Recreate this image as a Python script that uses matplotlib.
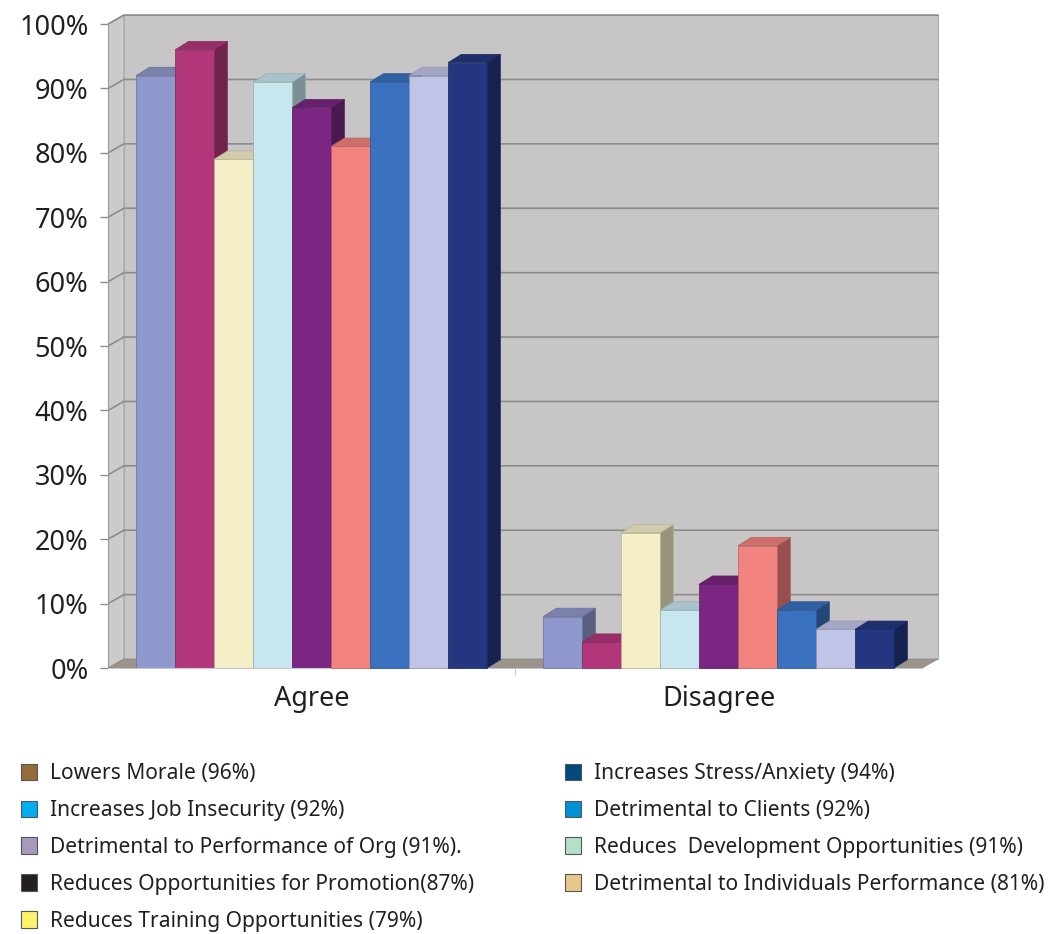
import matplotlib.pyplot as plt
from matplotlib.patches import Polygon, Patch

categories = ["Agree", "Disagree"]

# one list per bar series (left to right inside each group)
bar_colors = ["#8f98cc", "#b2377a", "#f5efc8", "#c8e6ee", "#7a2682",
              "#f2837f", "#3a72c0", "#c0c4e6", "#243680"]
agree = [92, 96, 79, 91, 87, 81, 91, 92, 94]
disagree = [8, 4, 21, 9, 13, 19, 9, 6, 6]

legend_left = ["Lowers Morale (96%)",
               "Increases Job Insecurity (92%)",
               "Detrimental to Performance of Org (91%).",
               "Reduces Opportunities for Promotion(87%)",
               "Reduces Training Opportunities (79%)"]
legend_left_colors = ["#946c3a", "#00aeef", "#a898bc", "#231f20", "#fff36b"]
legend_right = ["Increases Stress/Anxiety (94%)",
                "Detrimental to Clients (92%)",
                "Reduces  Development Opportunities (91%)",
                "Detrimental to Individuals Performance (81%)"]
legend_right_colors = ["#004a7c", "#0090d8", "#b5e0c8", "#e6c88a"]

yticks = list(range(0, 101, 10))

plt.rcParams["font.family"] = ["Noto Sans", "DejaVu Sans"]
TXT = "#231f20"


def shade(c, f):
    r, g, b = plt.matplotlib.colors.to_rgb(c)
    return (r * f, g * f, b * f)


def draw_bar(ax, x0, w, h, color, z, dx=0.033, dy=1.3):
    edge = shade(color, 0.75)
    side = [(x0 + w, 0), (x0 + w + dx, dy), (x0 + w + dx, h + dy), (x0 + w, h)]
    top = [(x0, h), (x0 + w, h), (x0 + w + dx, h + dy), (x0 + dx, h + dy)]
    ax.add_patch(Polygon(side, closed=True, fc=shade(color, 0.62),
                         ec=edge, lw=0.5, zorder=z))
    ax.add_patch(Polygon(top, closed=True, fc=shade(color, 0.85),
                         ec=edge, lw=0.5, zorder=z))
    ax.bar(x0, h, width=w, align="edge", color=color, edgecolor=edge,
           linewidth=0.5, zorder=z + 0.01)


fig = plt.figure(figsize=(10.59, 9.34), dpi=100)
ax = fig.add_axes([108 / 1059, 0.2744, 846.6 / 1059, 0.7136])
ax.set_xlim(-0.5, 1.58)
ax.set_ylim(-1.5, 102)
ax.set_facecolor("none")

# walls and floor
wdx, wdy = 0.039, 1.4
ax.add_patch(Polygon([(-0.5 + wdx, wdy), (1.5 + wdx, wdy),
                      (1.5 + wdx, 100 + wdy), (-0.5 + wdx, 100 + wdy)],
                     closed=True, fc="#c7c5c6", ec="#b0b0b0", lw=0.8, zorder=0))
ax.add_patch(Polygon([(-0.5, 0), (-0.5 + wdx, wdy),
                      (-0.5 + wdx, 100 + wdy), (-0.5, 100)],
                     closed=True, fc="#cbcbcb", ec="#a8a8a8", lw=0.8, zorder=0.1))
ax.add_patch(Polygon([(-0.5, 0), (1.5, 0), (1.5 + wdx, wdy), (-0.5 + wdx, wdy)],
                     closed=True, fc="#9a948c", ec="#8a847c", lw=0.5, zorder=0.6))

# gridlines on side wall + back wall
for t in yticks[1:]:
    ax.plot([-0.5, -0.5 + wdx, 1.5 + wdx], [t, t + wdy, t + wdy],
            color="#8c8c8c", lw=1.2, zorder=0.5)

# bars
n = len(agree)
group_w = 0.862
w = group_w / n
z = 2.0
for ci, vals in enumerate([agree, disagree]):
    start = ci - group_w / 2
    for i, v in enumerate(vals):
        draw_bar(ax, start + i * w, w, v, bar_colors[i], z)
        z += 0.1

# axes styling
for s in ["top", "right"]:
    ax.spines[s].set_visible(False)
ax.spines["left"].set_bounds(0, 100)
ax.spines["left"].set_color("#9a9a9a")
ax.spines["bottom"].set_position(("data", 0))
ax.spines["bottom"].set_bounds(-0.5, 1.5)
ax.spines["bottom"].set_color("#c8c8c8")

ax.set_yticks(yticks)
ax.set_yticklabels([f"{t}%" for t in yticks])
ax.tick_params(axis="y", length=6, width=1, color="#8c8c8c",
               labelsize=19.5, labelcolor=TXT, pad=8)
ax.set_xticks([0, 1])
ax.set_xticklabels(categories)
ax.tick_params(axis="x", length=0, labelsize=19.5, labelcolor=TXT, pad=12)
ax.set_xticks([0.5], minor=True)
ax.tick_params(axis="x", which="minor", length=5, color="#c8c8c8")

# legend, two columns
leg_kw = dict(frameon=False, loc="upper left", fontsize=15.1, borderpad=0,
              borderaxespad=0, handlelength=0.78, handleheight=0.82,
              handletextpad=0.6, labelspacing=0.76, labelcolor=TXT)
h1 = [Patch(fc=c, ec="#555555", lw=0.8) for c in legend_left_colors]
h2 = [Patch(fc=c, ec="#555555", lw=0.8) for c in legend_right_colors]
fig.legend(h1, legend_left, bbox_to_anchor=(21 / 1059, 1 - 763 / 934), **leg_kw)
fig.legend(h2, legend_right, bbox_to_anchor=(565 / 1059, 1 - 763 / 934), **leg_kw)

fig.savefig("out.png", dpi=100)
